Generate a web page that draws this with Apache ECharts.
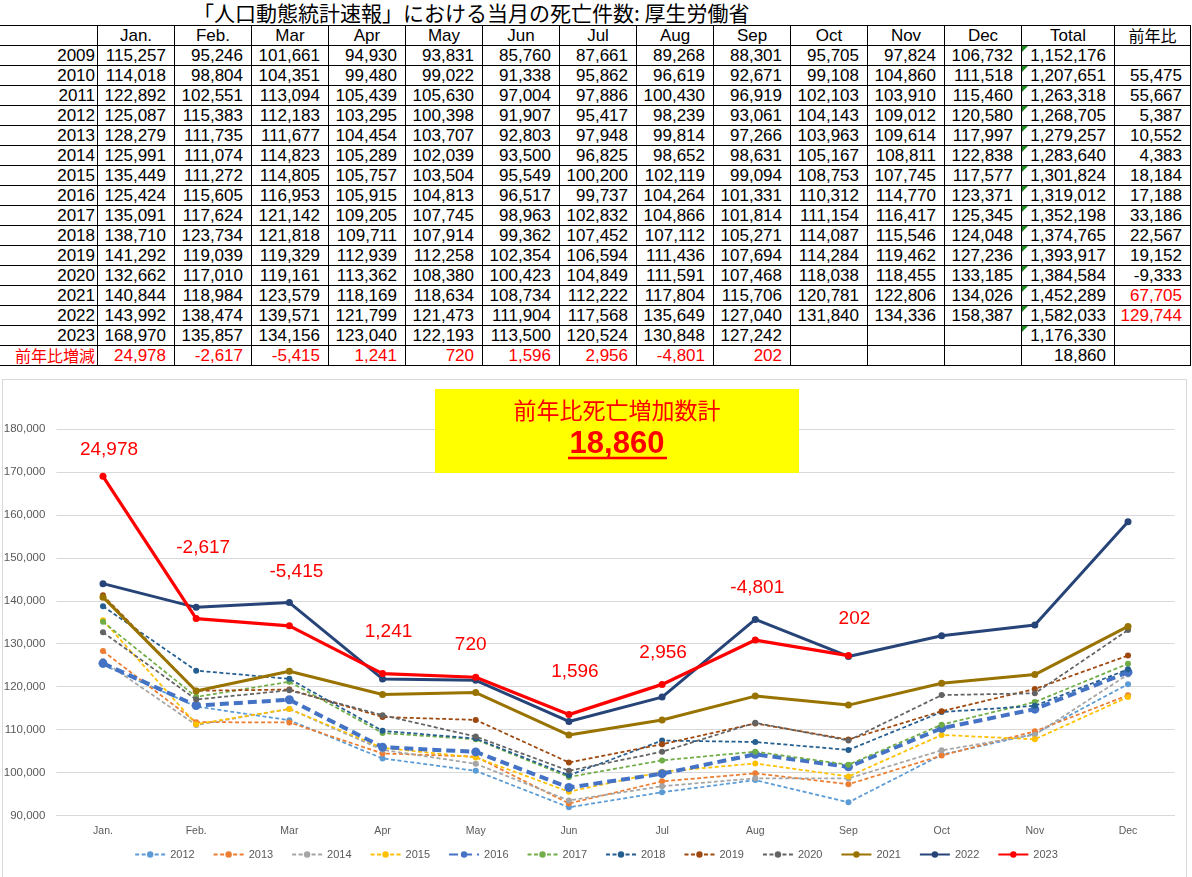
<!DOCTYPE html>
<html>
<head>
<meta charset="utf-8">
<script src="https://cdn.jsdelivr.net/npm/echarts@6/dist/echarts.min.js"></script>
<style>
  html,body{margin:0;padding:0;}
  body{width:1192px;height:877px;overflow:hidden;background:#fff;position:relative;font-family:"Liberation Sans",Arial,sans-serif;}
  #title{position:absolute;left:193px;top:0px;font-family:"Noto Sans CJK JP";font-size:21px;line-height:24px;color:#000;white-space:nowrap;}
  #tbl{position:absolute;left:-1px;top:25px;border-collapse:collapse;table-layout:fixed;width:1191px;}
  #tbl td{border:1px solid #000;height:19px;padding:0 8px 0 0;text-align:right;font-size:17px;line-height:19px;white-space:nowrap;overflow:hidden;position:relative;color:#000;}
  #tbl tr.hdr td{text-align:center;padding:0;}
  #tbl td.cjk{font-family:"Noto Sans CJK JP";font-size:16px;}
  #tbl td.red{color:#ff0000;}
  #tbl td.lbl{padding-right:2px;}
  #tbl td.tri::before{content:"";position:absolute;left:0;top:0;width:0;height:0;border-top:6px solid #1a8a1a;border-right:6px solid transparent;}
  #frame{position:absolute;left:2px;top:379px;width:1185px;height:510px;border:1px solid #d9d9d9;box-sizing:border-box;}
  #chart{position:absolute;left:0;top:370px;width:1192px;height:507px;}
</style>
</head>
<body>
<div id="title">「人口動態統計速報」における当月の死亡件数: 厚生労働省</div>
<table id="tbl"></table>
<div id="frame"></div>
<div id="chart"></div>
<script>
// ---------- data ----------
const months = ['Jan.','Feb.','Mar','Apr','May','Jun','Jul','Aug','Sep','Oct','Nov','Dec'];
const tableYears = ['2009','2010','2011','2012','2013','2014','2015','2016','2017','2018','2019','2020','2021','2022','2023'];
const d2009 = [115257,95246,101661,94930,93831,85760,87661,89268,88301,95705,97824,106732];
const d2010 = [114018,98804,104351,99480,99022,91338,95862,96619,92671,99108,104860,111518];
const d2011 = [122892,102551,113094,105439,105630,97004,97886,100430,96919,102103,103910,115460];
const d2012 = [125087,115383,112183,103295,100398,91907,95417,98239,93061,104143,109012,120580];
const d2013 = [128279,111735,111677,104454,103707,92803,97948,99814,97266,103963,109614,117997];
const d2014 = [125991,111074,114823,105289,102039,93500,96825,98652,98631,105167,108811,122838];
const d2015 = [135449,111272,114805,105757,103504,95549,100200,102119,99094,108753,107745,117577];
const d2016 = [125424,115605,116953,105915,104813,96517,99737,104264,101331,110312,114770,123371];
const d2017 = [135091,117624,121142,109205,107745,98963,102832,104866,101814,111154,116417,125345];
const d2018 = [138710,123734,121818,109711,107914,99362,107452,107112,105271,114087,115546,124048];
const d2019 = [141292,119039,119329,112939,112258,102354,106594,111436,107694,114284,119462,127236];
const d2020 = [132662,117010,119161,113362,108380,100423,104849,111591,107468,118038,118455,133185];
const d2021 = [140844,118984,123579,118169,118634,108734,112222,117804,115706,120781,122806,134026];
const d2022 = [143992,138474,139571,121799,121473,111904,117568,135649,127040,131840,134336,158387];
const d2023 = [168970,135857,134156,123040,122193,113500,120524,130848,127242];
const totals = [1152176,1207651,1263318,1268705,1279257,1283640,1301824,1319012,1352198,1374765,1393917,1384584,1452289,1582033,1176330];
const yoy = [null,55475,55667,5387,10552,4383,18184,17188,33186,22567,19152,-9333,67705,129744,null];
const monthDiff2023 = [24978,-2617,-5415,1241,720,1596,2956,-4801,202];
const totalDiff2023 = 18860;
const yTicks = {min:90000, max:180000, interval:10000};

const allRows = [d2009,d2010,d2011,d2012,d2013,d2014,d2015,d2016,d2017,d2018,d2019,d2020,d2021,d2022,d2023];
const chartYears = ['2012','2013','2014','2015','2016','2017','2018','2019','2020','2021','2022','2023'];
const chartRows = [d2012,d2013,d2014,d2015,d2016,d2017,d2018,d2019,d2020,d2021,d2022,d2023];

// ---------- styles (not data) ----------
const seriesStyles = [
  {color:'#5B9BD5', width:1.75, dash:[4,2.5], size:6},
  {color:'#ED7D31', width:1.75, dash:[4,2.5], size:6},
  {color:'#A5A5A5', width:1.75, dash:[4,2.5], size:6},
  {color:'#FFC000', width:1.75, dash:[4,2.5], size:6},
  {color:'#4472C4', width:4,    dash:[9,5],   size:9},
  {color:'#70AD47', width:1.75, dash:[4,2.5], size:6},
  {color:'#255E91', width:1.75, dash:[4,2.5], size:6},
  {color:'#9E480E', width:1.75, dash:[4,2.5], size:6},
  {color:'#636363', width:1.75, dash:[4,2.5], size:6},
  {color:'#997300', width:3,    dash:'solid', size:7},
  {color:'#264478', width:3,    dash:'solid', size:7},
  {color:'#FF0000', width:3.25, dash:'solid', size:7}
];
const labelOffsets = [[6,-27],[7,-71],[7,-54],[6,-42],[-5,-32],[6,-43],[1,-32],[2,-52],[6,-37]];

const fmt = v => (v === null || v === undefined) ? '' : v.toLocaleString('en-US');

// ---------- table ----------
(function buildTable(){
  const t = document.getElementById('tbl');
  let html = '<colgroup><col style="width:98px">';
  for (let i=0;i<12;i++) html += '<col style="width:77px">';
  html += '<col style="width:93px"><col style="width:76px"></colgroup>';
  html += '<tr class="hdr"><td></td>' + months.map(m=>'<td>'+m+'</td>').join('') + '<td>Total</td><td class="cjk">前年比</td></tr>';
  tableYears.forEach((y,r)=>{
    const row = allRows[r];
    html += '<tr><td class="lbl">'+y+'</td>';
    for (let i=0;i<12;i++) html += '<td>'+fmt(row[i])+'</td>';
    html += '<td class="tri">'+fmt(totals[r])+'</td>';
    const red = yoy[r] !== null && yoy[r] > 60000 ? ' class="red"' : '';
    html += '<td'+red+'>'+fmt(yoy[r])+'</td></tr>';
  });
  html += '<tr><td class="lbl cjk red">前年比増減</td>';
  for (let i=0;i<12;i++) html += '<td class="red">'+fmt(monthDiff2023[i])+'</td>';
  html += '<td>'+fmt(totalDiff2023)+'</td><td></td></tr>';
  t.innerHTML = html;
})();

// ---------- chart ----------
const chart = echarts.init(document.getElementById('chart'), null, {renderer:'canvas'});
const series = chartYears.map((y,idx)=>{
  const st = seriesStyles[idx];
  const isLast = idx === chartYears.length-1;
  const s = {
    name: y,
    type: 'line',
    data: isLast ? chartRows[idx].map((v,i)=>({value:v, label:{offset:labelOffsets[i]}})) : chartRows[idx],
    symbol: 'circle',
    symbolSize: st.size,
    lineStyle: {color: st.color, width: st.width, type: st.dash},
    itemStyle: {color: st.color},
    z: 2 + idx,
    animation: false,
    emphasis: {disabled: true}
  };
  if (isLast) {
    s.label = {
      show: true,
      position: 'inside',
      formatter: p => fmt(monthDiff2023[p.dataIndex]),
      color: '#FF0000',
      fontSize: 19,
      fontFamily: 'Liberation Sans'
    };
  }
  return s;
});

chart.setOption({
  animation: false,
  textStyle: {fontFamily: 'Liberation Sans'},
  grid: {left: 56.4, right: 17.4, top: 59, bottom: 61.5, containLabel: false},
  xAxis: {
    type: 'category',
    data: months,
    boundaryGap: true,
    axisLine: {lineStyle: {color: '#d9d9d9', width: 1}},
    axisTick: {show: false},
    axisLabel: {color: '#595959', fontSize: 10.5, margin: 10}
  },
  yAxis: {
    type: 'value',
    min: yTicks.min, max: yTicks.max, interval: yTicks.interval,
    axisLine: {show: false},
    axisTick: {show: false},
    splitLine: {lineStyle: {color: '#d9d9d9', width: 1}},
    axisLabel: {color: '#595959', fontSize: 11.5, margin: 11, formatter: v => fmt(v)}
  },
  legend: {
    data: chartYears,
    bottom: 12,
    left: 'center',
    itemWidth: 30,
    itemHeight: 8,
    itemGap: 18,
    textStyle: {color: '#595959', fontSize: 11},
    selectedMode: false
  },
  graphic: [
    {type:'rect', shape:{x:435, y:19, width:364, height:84}, style:{fill:'#FFFF00'}, z:100},
    {type:'text', x:617, y:40, style:{text:'前年比死亡増加数計', fill:'#FF0000', font:'23px "Noto Sans CJK JP"', align:'center', verticalAlign:'middle'}, z:101},
    {type:'text', x:617, y:74, style:{text:fmt(totalDiff2023), fill:'#FF0000', font:'bold 31px "Liberation Sans"', align:'center', verticalAlign:'middle'}, z:101},
    {type:'line', shape:{x1:568, y1:88, x2:667, y2:88}, style:{stroke:'#FF0000', lineWidth:2.5}, z:101}
  ],
  series: series
});
</script>
</body>
</html>
